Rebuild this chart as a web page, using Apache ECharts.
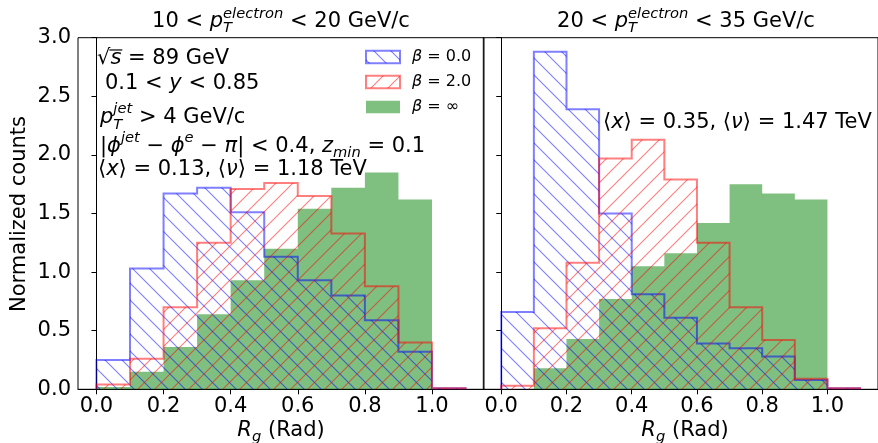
<!DOCTYPE html>
<html><head><meta charset="utf-8">
<script src="https://cdn.jsdelivr.net/npm/echarts@6/dist/echarts.min.js"></script>
<style>html,body{margin:0;padding:0;background:#fff}#c{width:878px;height:443px}</style>
</head><body><div id="c"></div>
<script>
// ---- data ----
const binEdges = [0, 0.1, 0.2, 0.3, 0.4, 0.5, 0.6, 0.7, 0.8, 0.9, 1.0, 1.1];
const xTicks = [0, 0.2, 0.4, 0.6, 0.8, 1.0];
const yTickStep = 0.5;
const leftBeta0   = [0.25, 1.03, 1.67, 1.72, 1.51, 1.13, 0.93, 0.80, 0.59, 0.32, 0.01];
const leftBeta2   = [0.04, 0.26, 0.70, 1.25, 1.71, 1.76, 1.65, 1.33, 0.88, 0.40, 0.01];
const leftBetaInf = [0.02, 0.15, 0.36, 0.64, 0.93, 1.20, 1.54, 1.72, 1.85, 1.62, 0];
const rightBeta0   = [0.66, 2.88, 2.39, 1.50, 0.81, 0.61, 0.39, 0.35, 0.28, 0.08, 0.01];
const rightBeta2   = [0.03, 0.52, 1.08, 1.97, 2.13, 1.79, 1.25, 0.70, 0.42, 0.09, 0.01];
const rightBetaInf = [0, 0.18, 0.43, 0.77, 1.05, 1.16, 1.42, 1.75, 1.67, 1.62, 0];
const legendValues = ['0.0', '2.0', '∞'];

// ---- styles ----
const FF = '"DejaVu Sans", sans-serif';
const BLUE = 'rgba(0,0,255,0.5)', RED = 'rgba(255,0,0,0.5)', GREEN = 'rgba(0,128,0,0.5)';
function hatch(color, dir) {
  const S = 17, c = document.createElement('canvas');
  c.width = S; c.height = S;
  const g = c.getContext('2d');
  g.strokeStyle = color; g.lineWidth = 1.1;
  g.beginPath();
  for (const o of [-S, 0, S]) {
    if (dir === '\\') { g.moveTo(o - 2, -2); g.lineTo(o + S + 2, S + 2); }
    else { g.moveTo(o - 2, S + 2); g.lineTo(o + S + 2, -2); }
  }
  g.stroke();
  return c;
}
const blueHatch = { image: hatch(BLUE, '\\'), repeat: 'repeat' };
const redHatch = { image: hatch(RED, '/'), repeat: 'repeat' };

function histSeries(idx, vals, fill, stroke, z) {
  return {
    type: 'custom', xAxisIndex: idx, yAxisIndex: idx, z: z, data: [0], silent: true,
    renderItem: function (params, api) {
      const pts = [api.coord([binEdges[0], 0])];
      for (let i = 0; i < vals.length; i++) {
        pts.push(api.coord([binEdges[i], vals[i]]));
        pts.push(api.coord([binEdges[i + 1], vals[i]]));
      }
      pts.push(api.coord([binEdges[binEdges.length - 1], 0]));
      const ch = [{ type: 'polygon', shape: { points: pts }, style: { fill: fill, stroke: null } }];
      if (stroke) ch.push({ type: 'polyline', shape: { points: pts }, style: { fill: null, stroke: stroke, lineWidth: 2 } });
      return { type: 'group', children: ch };
    }
  };
}

// ---- math-like text helper ----
const mctx = document.createElement('canvas').getContext('2d');
function tw(t, size, it) { mctx.font = (it ? 'italic ' : '') + size + 'px ' + FF; return mctx.measureText(t).width; }
function mt(x, y, F, segs, align) {
  let cx = 0, prevStart = 0, prevW = 0; const lay = [];
  for (const sg of segs) {
    const size = F * (sg.s || 1), wd = tw(sg.t, size, sg.i);
    let sx;
    if (sg.st) { sx = prevStart; const nw = Math.max(prevW, wd); cx = prevStart + nw; prevW = nw; }
    else { sx = cx; prevStart = cx; prevW = wd; cx += wd; }
    lay.push({ sg, size, sx, wd });
  }
  const x0 = align === 'center' ? x - cx / 2 : x;
  const els = lay.map(l => ({
    type: 'text', x: x0 + l.sx, y: y - (l.sg.dy || 0) * F, z: 100, silent: true,
    style: { text: l.sg.t, fontSize: l.size, fontFamily: FF, fontStyle: l.sg.i ? 'italic' : 'normal',
      fill: '#000', align: 'left', verticalAlign: 'middle' }
  }));
  return { els, lay, x0 };
}

const F = 21;
const graphics = [];
function add(r) { graphics.push(...r.els); return r; }
// titles
add(mt(281, 21.5, F, [{ t: '10 < ' }, { t: 'p', i: 1 }, { t: 'electron', i: 1, s: .7, dy: .36 }, { t: 'T', i: 1, s: .7, dy: -.33, st: 1 }, { t: ' < 20 GeV/c' }], 'center'));
add(mt(686, 21.5, F, [{ t: '20 < ' }, { t: 'p', i: 1 }, { t: 'electron', i: 1, s: .7, dy: .36 }, { t: 'T', i: 1, s: .7, dy: -.33, st: 1 }, { t: ' < 35 GeV/c' }], 'center'));
// annotations
const a1 = add(mt(97, 59, F, [{ t: '√' }, { t: 's', i: 1 }, { t: ' = 89 GeV' }]));
const sL = a1.lay[1];
graphics.push({ type: 'line', z: 100, silent: true, shape: { x1: a1.x0 + sL.sx - 1, y1: 59 - 0.43 * F, x2: a1.x0 + sL.sx + sL.wd + 1, y2: 59 - 0.43 * F }, style: { stroke: '#000', lineWidth: 1.2 } });
add(mt(105, 83.5, F, [{ t: '0.1 < ' }, { t: 'y', i: 1 }, { t: ' < 0.85' }]));
add(mt(100, 118, F, [{ t: 'p', i: 1 }, { t: 'jet', i: 1, s: .7, dy: .42 }, { t: 'T', i: 1, s: .7, dy: -.33, st: 1 }, { t: ' > 4 GeV/c' }]));
add(mt(100, 147, F, [{ t: '|' }, { t: 'ϕ', i: 1 }, { t: 'jet', i: 1, s: .7, dy: .42 }, { t: ' − ' }, { t: 'ϕ', i: 1 }, { t: 'e', i: 1, s: .7, dy: .42 }, { t: ' − ' }, { t: 'π', i: 1 }, { t: '| < 0.4, ' }, { t: 'z', i: 1 }, { t: 'min', i: 1, s: .7, dy: -.3 }, { t: ' = 0.1' }]));
add(mt(98, 170, F, [{ t: '⟨' }, { t: 'x', i: 1 }, { t: '⟩ = 0.13, ⟨' }, { t: 'ν', i: 1 }, { t: '⟩ = 1.18 TeV' }]));
add(mt(603, 122.5, F, [{ t: '⟨' }, { t: 'x', i: 1 }, { t: '⟩ = 0.35, ⟨' }, { t: 'ν', i: 1 }, { t: '⟩ = 1.47 TeV' }]));
// axis names
add(mt(281, 431, F, [{ t: 'R', i: 1 }, { t: 'g', i: 1, s: .7, dy: -.3 }, { t: ' (Rad)' }], 'center'));
add(mt(685, 431, F, [{ t: 'R', i: 1 }, { t: 'g', i: 1, s: .7, dy: -.3 }, { t: ' (Rad)' }], 'center'));
graphics.push({ type: 'text', x: 20, y: 214, rotation: Math.PI / 2, z: 100, silent: true,
  style: { text: 'Normalized counts', fontSize: F, fontFamily: FF, fill: '#000', align: 'center', verticalAlign: 'middle' } });
// legend
const legFills = [blueHatch, redHatch, GREEN], legStrokes = [BLUE, RED, null], legY = [57, 82, 107];
for (let i = 0; i < 3; i++) {
  graphics.push({ type: 'rect', z: 100, silent: true, shape: { x: 366, y: legY[i] - 6.3, width: 34, height: 12.6 },
    style: { fill: legFills[i], stroke: legStrokes[i], lineWidth: legStrokes[i] ? 2 : 0 } });
  add(mt(412, legY[i], 16, [{ t: 'β', i: 1 }, { t: ' = ' + legendValues[i] }]));
}

function xAxisCfg(idx) {
  return { type: 'value', gridIndex: idx, min: -0.055, max: 1.155,
    axisLine: { show: true, onZero: false, lineStyle: { color: '#000', width: 1 } },
    axisTick: { show: true, inside: false, length: 5, customValues: xTicks, lineStyle: { color: '#000' } },
    axisLabel: { customValues: xTicks, formatter: v => v.toFixed(1), fontSize: F, fontFamily: FF, color: '#000', margin: 7 },
    splitLine: { show: false } };
}
function yAxisCfg(idx, labels) {
  return { type: 'value', gridIndex: idx, min: 0, max: 3, interval: yTickStep,
    axisLine: { show: true, lineStyle: { color: '#000', width: 1 } },
    axisTick: { show: true, inside: false, length: 5, lineStyle: { color: '#000' } },
    axisLabel: { show: labels, formatter: v => v.toFixed(1), fontSize: F, fontFamily: FF, color: '#000', margin: 7 },
    splitLine: { show: false } };
}

const chart = echarts.init(document.getElementById('c'), null, { renderer: 'canvas' });
chart.setOption({
  animation: false,
  backgroundColor: '#fff',
  grid: [
    { left: 78, top: 37.7, width: 406, height: 351.6, show: true, borderColor: '#000', borderWidth: 1, backgroundColor: 'transparent' },
    { left: 483.3, top: 37.7, width: 406, height: 351.6, show: true, borderColor: '#000', borderWidth: 1, backgroundColor: 'transparent' }
  ],
  xAxis: [xAxisCfg(0), xAxisCfg(1)],
  yAxis: [yAxisCfg(0, true), yAxisCfg(1, false)],
  series: [
    histSeries(0, leftBetaInf, GREEN, null, 1),
    histSeries(0, leftBeta0, blueHatch, BLUE, 2),
    histSeries(0, leftBeta2, redHatch, RED, 3),
    histSeries(1, rightBetaInf, GREEN, null, 1),
    histSeries(1, rightBeta0, blueHatch, BLUE, 2),
    histSeries(1, rightBeta2, redHatch, RED, 3)
  ],
  graphic: graphics
});
</script>
</body></html>
